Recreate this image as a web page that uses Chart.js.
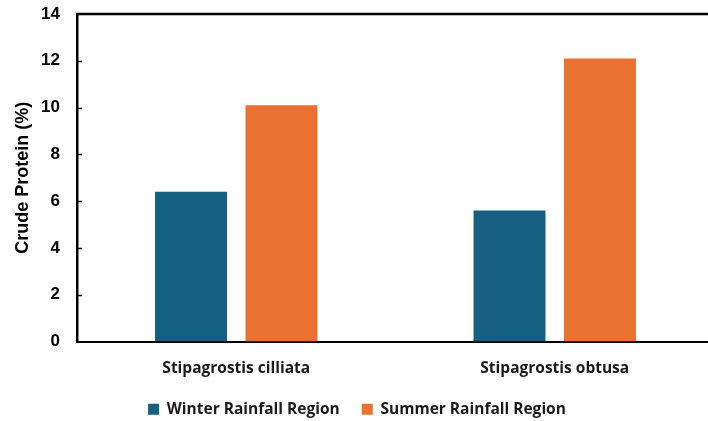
<!DOCTYPE html>
<html>
<head>
<meta charset="utf-8">
<script src="https://cdn.jsdelivr.net/npm/chart.js@4.4.1/dist/chart.umd.min.js"></script>
<style>
  html, body { margin: 0; padding: 0; background: #fff; overflow: hidden; }
  #wrap { position: absolute; left: 0; top: 0; width: 714px; height: 427px; }
</style>
</head>
<body>
<div id="wrap"><canvas id="cp" width="714" height="427"></canvas></div>
<script>
// ── Data ───────────────────────────────────
var species = ['Stipagrostis cilliata', 'Stipagrostis obtusa'];
var winterCP = [6.4, 5.6];
var summerCP = [10.1, 12.1];
var yTicks = [0, 2, 4, 6, 8, 10, 12, 14];

var BLUE = '#156082';
var ORANGE = '#E97132';
var LABEL_FONT = { family: 'Open Sans', size: 15.5, weight: 'bold' };

// frame line along the top edge + short inward ticks on the y axis
var framePlugin = {
  id: 'frame',
  afterDatasetsDraw: function(chart) {
    var ctx = chart.ctx, a = chart.chartArea, y = chart.scales.y;
    ctx.save();
    ctx.strokeStyle = '#000';
    ctx.lineWidth = 2.5;
    ctx.beginPath();
    ctx.moveTo(a.left - 1, a.top);
    ctx.lineTo(a.right, a.top);
    ctx.stroke();
    ctx.lineWidth = 1.5;
    yTicks.forEach(function(v) {
      if (v === 0 || v === 14) return;
      var py = Math.round(y.getPixelForValue(v)) + 0.5;
      ctx.beginPath();
      ctx.moveTo(a.left, py);
      ctx.lineTo(a.left + 5, py);
      ctx.stroke();
    });
    ctx.restore();
  }
};

new Chart(document.getElementById('cp'), {
  type: 'bar',
  data: {
    labels: species,
    datasets: [
      { label: 'Winter Rainfall Region', data: winterCP, backgroundColor: BLUE },
      { label: 'Summer Rainfall Region', data: summerCP, backgroundColor: ORANGE }
    ]
  },
  options: {
    responsive: false,
    animation: false,
    devicePixelRatio: 1,
    categoryPercentage: 0.568,
    barPercentage: 0.7956,
    layout: { padding: { top: 14, right: 0, bottom: 0, left: 0 } },
    plugins: {
      tooltip: { enabled: false },
      legend: {
        position: 'bottom',
        labels: {
          boxWidth: 11, boxHeight: 11, padding: 22, color: '#1a1a1a',
          font: LABEL_FONT
        }
      }
    },
    scales: {
      x: {
        grid: { display: false, drawTicks: false },
        border: { display: true, color: '#000', width: 2 },
        ticks: { padding: 18, color: '#1a1a1a', font: LABEL_FONT },
        afterFit: function(s) { s.height = 38; }
      },
      y: {
        min: 0, max: 14,
        afterBuildTicks: function(s) { s.ticks = yTicks.map(function(v) { return { value: v }; }); },
        // tick length only spaces the labels; the marks themselves come from the frame plugin
        grid: { display: false, drawTicks: true, tickLength: 14 },
        border: { display: true, color: '#000', width: 2.5 },
        ticks: { padding: 3, color: '#000', font: { family: 'Liberation Sans', size: 17, weight: 'bold' } },
        title: {
          display: true, text: 'Crude Protein (%)', color: '#000',
          padding: { top: 12, bottom: 0 },
          font: { family: 'Liberation Sans', size: 18, weight: 'bold' }
        },
        afterFit: function(s) { s.width = 77; }
      }
    }
  },
  plugins: [framePlugin]
});
</script>
</body>
</html>
